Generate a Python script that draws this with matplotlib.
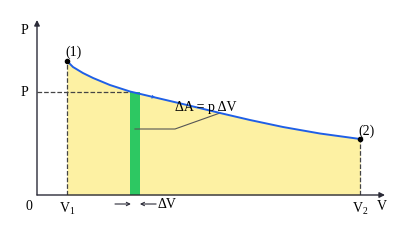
import numpy as np
import matplotlib
matplotlib.use('Agg')
import matplotlib.pyplot as plt

# --- Data (arbitrary units) ---
# Curve p(V) from state (1) to state (2)
curve_V = [1.0, 1.2, 1.53, 1.87, 2.43, 3.1, 3.87, 5.0, 6.1, 7.1, 8.2, 9.43, 10.77]
curve_P = [13.4, 12.8, 12.2, 11.7, 11.0, 10.35, 9.8, 9.0, 8.2, 7.5, 6.8, 6.15, 5.6]
V1, V2 = 1.0, 10.77
strip_V = [3.1, 3.43]      # the thin strip dV
strip_P = 10.3             # pressure at the strip
x_max, y_max = 11.6, 17.5

YELLOW = '#FDF1A3'
GREEN = '#2DC862'
BLUE = '#1F5FE6'
DARK = '#2B2B38'
FS = 10

plt.rcParams['font.family'] = ['Liberation Serif', 'DejaVu Serif']
plt.rcParams['mathtext.fontset'] = 'custom'
plt.rcParams['mathtext.rm'] = 'Liberation Serif'
plt.rcParams['mathtext.it'] = 'Liberation Serif'

fig = plt.figure(figsize=(4, 2.4), dpi=100)
ax = fig.add_axes([37 / 400, 45 / 240, 348 / 400, 175 / 240])
ax.set_xlim(0, x_max)
ax.set_ylim(0, y_max)
ax.axis('off')

# area under the curve
ax.fill_between(curve_V, curve_P, 0, color=YELLOW, lw=0, zorder=1)
# the strip dA = p dV
ax.fill_between(strip_V, [strip_P, strip_P], 0, color=GREEN, lw=0, zorder=2)

# the curve
ax.plot(curve_V, curve_P, color=BLUE, lw=1.4, zorder=4)
ax.annotate('', xy=(3.95, 9.74), xytext=(3.65, 9.95),
            arrowprops=dict(arrowstyle='-|>', color=BLUE, lw=0, mutation_scale=7,
                            shrinkA=0, shrinkB=0), zorder=4)

# end points
ax.plot([V1, V2], [curve_P[0], curve_P[-1]], 'o', color='black', ms=3, zorder=5)
ax.text(V1 - 0.05, curve_P[0] + 0.2, '(1)', fontsize=FS, va='bottom', ha='left')
ax.text(V2 - 0.05, curve_P[-1] + 0.05, '(2)', fontsize=FS, va='bottom', ha='left')

# dashed guides
ax.plot([V1, V1], [0, curve_P[0]], '--', color='#444444', lw=0.9, zorder=3)
ax.plot([V2, V2], [0, curve_P[-1]], '--', color='#444444', lw=0.9, zorder=3)
ax.plot([0, strip_V[0]], [strip_P, strip_P], '--', color='#444444', lw=0.9, zorder=3)

# axes with arrows
ax.annotate('', xy=(x_max, 0), xytext=(0, 0),
            arrowprops=dict(arrowstyle='-|>', color=DARK, lw=1.0, mutation_scale=8,
                            shrinkA=0, shrinkB=0), annotation_clip=False)
ax.annotate('', xy=(0, y_max), xytext=(0, 0),
            arrowprops=dict(arrowstyle='-|>', color=DARK, lw=1.0, mutation_scale=8,
                            shrinkA=0, shrinkB=0), annotation_clip=False)

# axis labels and ticks
ax.text(-0.3, y_max - 1.0, 'P', fontsize=FS, ha='right', va='center')
ax.text(x_max - 0.1, -1.2, 'V', fontsize=FS, ha='center', va='center')
ax.text(-0.15, -1.2, '0', fontsize=FS, ha='right', va='center')
ax.text(-0.3, strip_P, 'P', fontsize=FS, ha='right', va='center')
ax.text(V1, -1.4, 'V$_1$', fontsize=FS, ha='center', va='center')
ax.text(V2, -1.4, 'V$_2$', fontsize=FS, ha='center', va='center')

# dV arrows
ax.annotate('', xy=(3.13, -0.9), xytext=(2.6, -0.9),
            arrowprops=dict(arrowstyle='->', color=DARK, lw=0.8, mutation_scale=6,
                            shrinkA=0, shrinkB=0), annotation_clip=False)
ax.annotate('', xy=(3.43, -0.9), xytext=(3.97, -0.9),
            arrowprops=dict(arrowstyle='->', color=DARK, lw=0.8, mutation_scale=6,
                            shrinkA=0, shrinkB=0), annotation_clip=False)
ax.text(4.03, -0.9, '\u0394V', fontsize=FS, ha='left', va='center')

# leader line and label
ax.plot([np.mean(strip_V), 4.6, 6.1], [6.6, 6.6, 8.2], color='#555555', lw=0.8, zorder=3)
ax.text(5.62, 8.8, '\u0394A = p \u0394V', fontsize=FS, ha='center', va='center', zorder=6)

fig.savefig('out.png', dpi=100)
plt.close(fig)
